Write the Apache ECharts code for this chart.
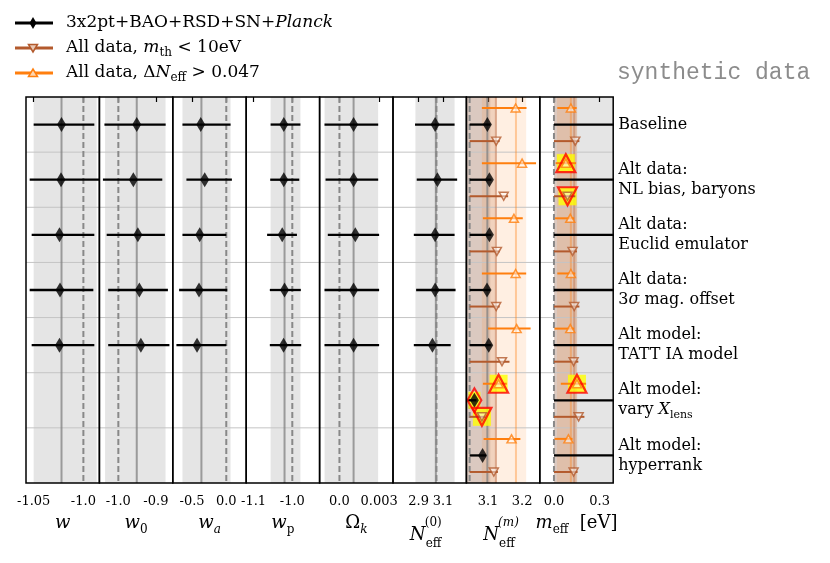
<!DOCTYPE html>
<html>
<head>
<meta charset="utf-8">
<script src="https://cdn.jsdelivr.net/npm/echarts@6/dist/echarts.min.js"></script>
<style>
html,body{margin:0;padding:0;background:#fff;}
#chart{width:830px;height:563px;}
</style>
</head>
<body>
<div id="chart"></div>
<script>
// row labels (top to bottom)
var rowNames = [
    'Baseline',
    'Alt data:\nNL bias, baryons',
    'Alt data:\nEuclid emulator',
    'Alt data:\n3{i|σ} mag. offset',
    'Alt model:\nTATT IA model',
    'Alt model:\nvary {i|X}{sub|lens}',
    'Alt model:\nhyperrank'
];

// panel axes: w, w0, wa, wp, Omega_k, Neff0, Neffm, meff
var axisMin = [-1.0577, -1.0504, -0.781, -1.119, -0.0015, 2.689, 3.0365, -0.093];
var axisMax = [-0.9839, -0.855, 0.291, -0.9295, 0.00405, 3.292, 3.252, 0.389];
var tickValues = [[-1.05, -1.0], [-1.0, -0.9], [-0.5, 0.0], [-1.1, -1.0], [0.0, 0.003], [2.9, 3.1], [3.1, 3.2], [0.0, 0.3]];
var tickLabels = [['-1.05', '-1.0'], ['-1.0', '-0.9'], ['-0.5', '0.0'], ['-1.1', '-1.0'], ['0.0', '0.003'], ['2.9', '3.1'], ['3.1', '3.2'], ['0.0', '0.3']];
var fiducial = [-1.0, -1.0, 0.0, -1.0, 0.0, 3.046, 3.046, 0.0];

// reference bands / lines behind the points
var grayCenter = [-1.022, -0.951, -0.363, -1.020, 0.00107, 3.041, 3.098, null];
var grayBand = [[-1.05, -0.9866], [-1.0353, -0.8743], [-0.640, 0.0626], [-1.056, -0.979], [-0.001125, 0.002925], [2.873, 3.195], [3.0365, 3.107], [0.0, 0.389]];
var brownCenter = [null, null, null, null, null, null, 3.123, 0.133];
var brownBand = [null, null, null, null, null, null, [3.0365, 3.126], [0.0, 0.152]];
var orangeCenter = [null, null, null, null, null, null, 3.182, 0.111];
var orangeBand = [null, null, null, null, null, null, [3.082, 3.212], [0.02, 0.15]];

// [low, centre, high] per row; null = not run
var blackData = [
    [[-1.050, -1.022, -0.989], [-1.054, -1.0225, -0.983], [-1.052, -1.024, -0.989], [-1.054, -1.0235, -0.990], [-1.052, -1.024, -0.989], null, null],
    [[-1.037, -0.951, -0.874], [-1.041, -0.960, -0.883], [-1.031, -0.948, -0.876], [-1.027, -0.944, -0.868], [-1.027, -0.940, -0.864], null, null],
    [[-0.640, -0.373, 0.063], [-0.582, -0.315, 0.082], [-0.640, -0.388, 0.0], [-0.689, -0.398, 0.015], [-0.728, -0.427, 0.0], null, null],
    [[-1.056, -1.022, -0.979], [-1.057, -1.022, -0.982], [-1.065, -1.026, -0.988], [-1.058, -1.020, -0.978], [-1.058, -1.0225, -0.977], null, null],
    [[-0.00113, 0.00107, 0.00293], [-0.00105, 0.00107, 0.00293], [-0.00088, 0.0012, 0.003], [-0.00113, 0.00107, 0.003], [-0.00113, 0.00107, 0.003], null, null],
    [[2.870, 3.035, 3.195], [2.884, 3.054, 3.216], [2.860, 3.035, 3.195], [2.879, 3.035, 3.203], [2.860, 3.013, 3.163], null, null],
    [[3.046, 3.098, 3.107], [3.046, 3.104, 3.110], [3.046, 3.104, 3.110], [3.046, 3.097, 3.106], [3.046, 3.102, 3.110], [3.040, 3.060, 3.066], [3.046, 3.084, 3.094]],
    [[0.0, null, 0.4], [0.0, null, 0.4], [0.0, null, 0.4], [0.0, null, 0.4], [0.0, null, 0.4], [0.0, null, 0.4], [0.0, null, 0.4]]
];
var brownNeffm = [[3.046, 3.124, 3.134], [3.046, 3.146, 3.159], [3.046, 3.126, 3.134], [3.046, 3.124, 3.134], [3.046, 3.141, 3.163], [3.046, 3.082, 3.092], [3.046, 3.117, 3.129]];
var brownMeff = [[0.0, 0.140, 0.167], [0.0, 0.089, 0.140], [0.0, 0.122, 0.151], [0.0, 0.133, 0.167], [0.0, 0.129, 0.160], [0.0, 0.162, 0.200], [0.0, 0.129, 0.155]];
var orangeNeffm = [[3.082, 3.181, 3.213], [3.082, 3.200, 3.241], [3.085, 3.176, 3.202], [3.082, 3.181, 3.212], [3.100, 3.184, 3.225], [3.085, 3.131, 3.155], [3.087, 3.169, 3.195]];
var orangeMeff = [[0.022, 0.111, 0.149], [0.011, 0.078, 0.145], [0.007, 0.107, 0.133], [0.022, 0.111, 0.140], [0.004, 0.107, 0.133], [0.045, 0.151, 0.211], [0.004, 0.095, 0.122]];

// flagged points: [panel, row, set]
var flagged = [[7, 1, 'orange'], [7, 1, 'brown'], [6, 5, 'orange'], [6, 5, 'black'], [6, 5, 'brown'], [7, 5, 'orange']];

var BLACK = '#000000', BROWN = '#b35a2d', ORANGE = '#ff7f0e';
var SERIF = 'DejaVu Serif';
var nPanels = 8, left0 = 26, panelW = 73.4, top0 = 97, plotH = 386;
var offsets = {orange: -0.3, black: 0, brown: 0.3};

function setData(set, p) {
    if (set === 'black') return blackData[p];
    if (set === 'brown') return p === 6 ? brownNeffm : (p === 7 ? brownMeff : null);
    if (set === 'orange') return p === 6 ? orangeNeffm : (p === 7 ? orangeMeff : null);
    return null;
}

function backdrop(p) {
    return function (params, api) {
        var children = [];
        function band(r, fill) {
            if (!r) return;
            var a = api.coord([r[0], 0]), b = api.coord([r[1], 7]);
            children.push({type: 'rect', shape: {x: Math.min(a[0], b[0]), y: a[1], width: Math.abs(b[0] - a[0]), height: b[1] - a[1]}, style: {fill: fill}});
        }
        function vline(v, stroke, w, dash) {
            if (v == null) return;
            var a = api.coord([v, 0]), b = api.coord([v, 7]);
            children.push({type: 'line', shape: {x1: a[0], y1: a[1], x2: b[0], y2: b[1]}, style: {stroke: stroke, lineWidth: w, lineDash: dash || null}});
        }
        band(grayBand[p], 'rgba(0,0,0,0.1)');
        band(brownBand[p], 'rgba(179,90,45,0.2)');
        band(orangeBand[p], 'rgba(255,127,14,0.12)');
        for (var k = 1; k < 7; k++) {
            var a = api.coord([axisMin[p], k]), b = api.coord([axisMax[p], k]);
            children.push({type: 'line', shape: {x1: a[0], y1: a[1], x2: b[0], y2: b[1]}, style: {stroke: '#c4c4c4', lineWidth: 1}});
        }
        vline(grayCenter[p], 'rgba(128,128,128,0.75)', 2);
        vline(brownCenter[p], 'rgba(179,90,45,0.35)', 2);
        vline(orangeCenter[p], 'rgba(255,127,14,0.35)', 2);
        vline(fiducial[p], '#888888', 2, [6, 3]);
        return {type: 'group', children: children};
    };
}

function frame(params) {
    var c = params.coordSys;
    return {type: 'rect', shape: {x: c.x, y: c.y, width: c.width, height: c.height}, style: {fill: 'none', stroke: '#000', lineWidth: 1.5}};
}

function barSeries(p, set, color, width) {
    var rows = setData(set, p), items = [];
    if (!rows) return null;
    rows.forEach(function (d, r) { if (d) items.push([d[0], d[2], r + 0.5 + offsets[set]]); });
    return {
        type: 'custom', xAxisIndex: p, yAxisIndex: p, z: 3, clip: true, silent: true,
        encode: {x: [0, 1], y: 2}, data: items,
        renderItem: function (params, api) {
            var a = api.coord([api.value(0), api.value(2)]), b = api.coord([api.value(1), api.value(2)]);
            return {type: 'line', shape: {x1: a[0], y1: a[1], x2: b[0], y2: b[1]}, style: {stroke: color, lineWidth: width}};
        }
    };
}

function markerSeries(p, set) {
    var rows = setData(set, p), items = [];
    if (!rows) return null;
    rows.forEach(function (d, r) { if (d && d[1] != null) items.push([d[1], r + 0.5 + offsets[set]]); });
    var s = {type: 'scatter', xAxisIndex: p, yAxisIndex: p, z: 4, silent: true, data: items};
    if (set === 'black') {
        s.symbol = 'diamond'; s.symbolSize = [9, 15]; s.itemStyle = {color: BLACK};
    } else {
        s.symbol = 'triangle'; s.symbolSize = [9, 8];
        s.symbolRotate = set === 'brown' ? 180 : 0;
        s.itemStyle = {color: 'rgba(255,255,255,0.6)', borderColor: set === 'brown' ? BROWN : ORANGE, borderWidth: 1.5};
    }
    return s;
}

function flagSeries() {
    var out = [];
    flagged.forEach(function (f) {
        var p = f[0], r = f[1], set = f[2];
        var d = setData(set, p)[r];
        var pt = [[d[1], r + 0.5 + offsets[set]]];
        var diamond = set === 'black';
        out.push({type: 'scatter', xAxisIndex: p, yAxisIndex: p, z: 2, silent: true, data: pt,
            symbol: 'rect', symbolSize: diamond ? [12, 17] : [18, 18], itemStyle: {color: '#ffff00'}});
        out.push({type: 'scatter', xAxisIndex: p, yAxisIndex: p, z: 5, silent: true, data: pt,
            symbol: diamond ? 'diamond' : 'triangle', symbolSize: diamond ? [14, 24] : [19, 18],
            symbolRotate: set === 'brown' ? 180 : 0,
            itemStyle: {color: 'rgba(0,0,0,0)', borderColor: '#ff0000', borderWidth: 2.2}});
    });
    return out;
}

function tickFormatter(p) {
    return function (v) {
        for (var k = 0; k < tickValues[p].length; k++) {
            if (Math.abs(tickValues[p][k] - v) < 1e-9) return tickLabels[p][k];
        }
        return '';
    };
}

var grids = [], xAxes = [], yAxes = [], series = [];
var rowCentres = [0.5, 1.5, 2.5, 3.5, 4.5, 5.5, 6.5];
for (var p = 0; p < nPanels; p++) {
    grids.push({left: left0 + p * panelW, top: top0, width: panelW, height: plotH, show: false});
    xAxes.push({
        gridIndex: p, type: 'value', min: axisMin[p], max: axisMax[p],
        axisLine: {show: false}, splitLine: {show: false},
        axisTick: {show: true, customValues: tickValues[p], length: 5, lineStyle: {color: '#000', width: 1.2}},
        axisLabel: {customValues: tickValues[p], formatter: tickFormatter(p), margin: 12,
            fontFamily: SERIF, fontSize: 13, color: '#000'}
    });
    yAxes.push({
        gridIndex: p, type: 'value', min: 0, max: 7, inverse: true,
        position: p === nPanels - 1 ? 'right' : 'left',
        axisLine: {show: false}, axisTick: {show: false}, splitLine: {show: false},
        axisLabel: {
            show: p === nPanels - 1, customValues: rowCentres, margin: 5,
            formatter: function (v) { return rowNames[Math.floor(v)]; },
            fontFamily: SERIF, fontSize: 16, color: '#000', lineHeight: 20,
            rich: {
                i: {fontFamily: SERIF, fontStyle: 'italic', fontSize: 16, lineHeight: 20, color: '#000'},
                sub: {fontFamily: SERIF, fontSize: 11, lineHeight: 12, verticalAlign: 'bottom', color: '#000'}
            }
        }
    });
    series.push({type: 'custom', xAxisIndex: p, yAxisIndex: p, z: 1, clip: true, silent: true,
        data: [[axisMin[p], 0]], renderItem: backdrop(p)});
    [barSeries(p, 'orange', ORANGE, 2), barSeries(p, 'black', BLACK, 2.3), barSeries(p, 'brown', BROWN, 2),
     markerSeries(p, 'orange'), markerSeries(p, 'black'), markerSeries(p, 'brown')].forEach(function (s) {
        if (s) series.push(s);
    });
    series.push({type: 'custom', xAxisIndex: p, yAxisIndex: p, z: 10, clip: false, silent: true,
        data: [[axisMin[p], 0]], renderItem: frame});
}
series = series.concat(flagSeries());

// axis titles below each panel
var nameRich = {
    i: {fontFamily: SERIF, fontStyle: 'italic', fontSize: 18, lineHeight: 26, fill: '#000'},
    r: {fontFamily: SERIF, fontSize: 18, lineHeight: 26, fill: '#000'},
    sub: {fontFamily: SERIF, fontSize: 12, lineHeight: 12, verticalAlign: 'bottom', fill: '#000'},
    subi: {fontFamily: SERIF, fontStyle: 'italic', fontSize: 12, lineHeight: 12, verticalAlign: 'bottom', fill: '#000'}
};
var axisTitles = ['{i|w}', '{i|w}{sub|0}', '{i|w}{subi|a}', '{i|w}{sub|p}', '{r|Ω}{subi|k}', null, null, '{i|m}{sub|eff}{r|  [eV]}'];
var neffSup = [null, null, null, null, null, '(0)', '(m)', null];

var graphics = [];
for (var q = 0; q < nPanels; q++) {
    var cx = left0 + (q + 0.5) * panelW;
    if (axisTitles[q]) {
        graphics.push({type: 'text', x: cx, y: 523, silent: true,
            style: {text: axisTitles[q], rich: nameRich, align: 'center', verticalAlign: 'middle'}});
    } else {
        graphics.push({type: 'text', x: cx - 12, y: 535, silent: true,
            style: {text: 'N', font: 'italic 18px "DejaVu Serif"', fill: '#000', align: 'center', verticalAlign: 'middle'}});
        graphics.push({type: 'text', x: cx - 5, y: 523, silent: true,
            style: {text: neffSup[q], font: q === 6 ? 'italic 12px "DejaVu Serif"' : '12px "DejaVu Serif"', fill: '#000', align: 'left', verticalAlign: 'middle'}});
        graphics.push({type: 'text', x: cx - 4, y: 544, silent: true,
            style: {text: 'eff', font: '12px "DejaVu Serif"', fill: '#000', align: 'left', verticalAlign: 'middle'}});
    }
}

// legend
var legendRich = {
    r: {fontFamily: SERIF, fontSize: 17, lineHeight: 22, fill: '#000'},
    i: {fontFamily: SERIF, fontStyle: 'italic', fontSize: 17, lineHeight: 22, fill: '#000'},
    sub: {fontFamily: SERIF, fontSize: 12, lineHeight: 12, verticalAlign: 'bottom', fill: '#000'}
};
var legendText = ['{r|3x2pt+BAO+RSD+SN+}{i|Planck}', '{r|All data, }{i|m}{sub|th}{r| < 10eV}', '{r|All data, Δ}{i|N}{sub|eff}{r| > 0.047}'];
var legendColor = [BLACK, BROWN, ORANGE];
var legendY = [23, 48, 73];
legendText.forEach(function (t, k) {
    var y = legendY[k];
    graphics.push({type: 'line', silent: true, shape: {x1: 15, y1: y, x2: 53, y2: y}, style: {stroke: legendColor[k], lineWidth: 3}});
    if (k === 0) {
        graphics.push({type: 'polygon', silent: true, shape: {points: [[33, y - 6], [36.5, y], [33, y + 6], [29.5, y]]}, style: {fill: BLACK}});
    } else if (k === 1) {
        graphics.push({type: 'polygon', silent: true, shape: {points: [[28.5, y - 3.5], [37.5, y - 3.5], [33, y + 4]]}, style: {fill: '#e8c8b5', stroke: BROWN, lineWidth: 1.5}});
    } else {
        graphics.push({type: 'polygon', silent: true, shape: {points: [[28.5, y + 3.5], [37.5, y + 3.5], [33, y - 4]]}, style: {fill: '#ffd6b0', stroke: ORANGE, lineWidth: 1.5}});
    }
    graphics.push({type: 'text', x: 66, y: y, silent: true, style: {text: t, rich: legendRich, verticalAlign: 'middle', align: 'left'}});
});

graphics.push({type: 'text', x: 617, y: 73, silent: true,
    style: {text: 'synthetic data', font: '23px "Liberation Mono"', fill: '#8c8c8c', verticalAlign: 'middle', align: 'left'}});

var chart = echarts.init(document.getElementById('chart'));
chart.setOption({
    animation: false,
    backgroundColor: '#fff',
    grid: grids,
    xAxis: xAxes,
    yAxis: yAxes,
    series: series,
    graphic: graphics
});
</script>
</body>
</html>
